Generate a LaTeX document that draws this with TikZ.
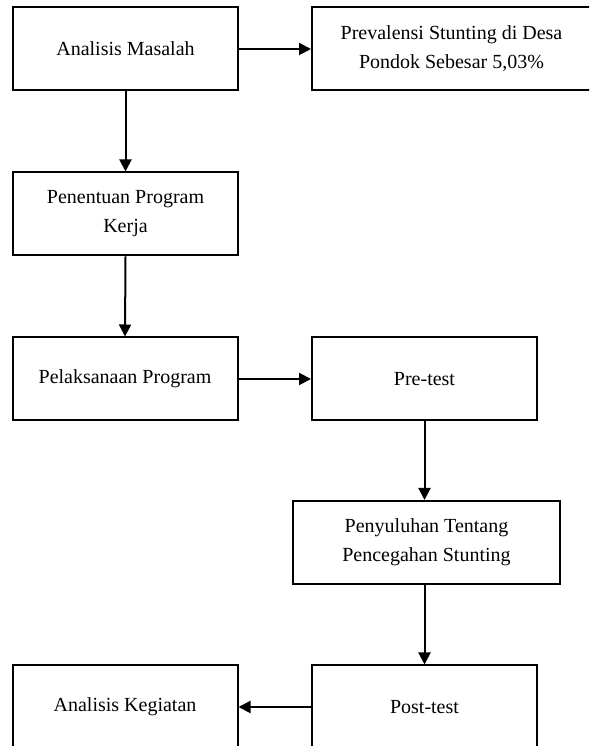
\documentclass[tikz,border=0pt]{standalone}
\usepackage{fontspec}
\setmainfont{Liberation Serif}
\usetikzlibrary{arrows.meta}
\begin{document}
\begin{tikzpicture}[x=1pt,y=1pt,
  box/.style={draw=black, line width=2pt, minimum height=83pt, inner sep=2pt, align=center, font=\fontsize{20}{29}\selectfont, fill=white},
  arr/.style={line width=2pt, -{Triangle[length=12pt,width=12pt]}}]
\useasboundingbox (0,0) rectangle (589,746);
\clip (0,0) rectangle (589,746);
\node[box, minimum width=225pt] (b1) at (125.5,697) {Analisis Masalah};
\node[box, minimum width=279pt] (b2) at (451.5,697) {Prevalensi Stunting di Desa\\Pondok Sebesar 5,03\%};
\node[box, minimum width=225pt] (b3) at (125.5,532) {Penentuan Program\\Kerja};
\node[box, minimum width=225pt] (b4) at (125,367) {Pelaksanaan Program};
\node[box, minimum width=225pt] (b5) at (424.5,367) {Pre-test};
\node[box, minimum width=267pt] (b6) at (426.5,203.5) {Penyuluhan Tentang\\Pencegahan Stunting};
\node[box, minimum width=225pt] (b7) at (424.5,39) {Post-test};
\node[box, minimum width=225pt] (b8) at (125,39) {Analisis Kegiatan};
\draw[arr] (b1.east) -- (b2.west);
\draw[arr] (b1.south) -- (b3.north);
\draw[arr] (b3.south) -- (b4.north);
\draw[arr] (b4.east) -- (b5.west);
\draw[arr] (b5.south) -- (b5.south |- b6.north);
\draw[arr] (b5.south |- b6.south) -- (b7.north);
\draw[arr] (b7.west) -- (b8.east);
\end{tikzpicture}
\end{document}
